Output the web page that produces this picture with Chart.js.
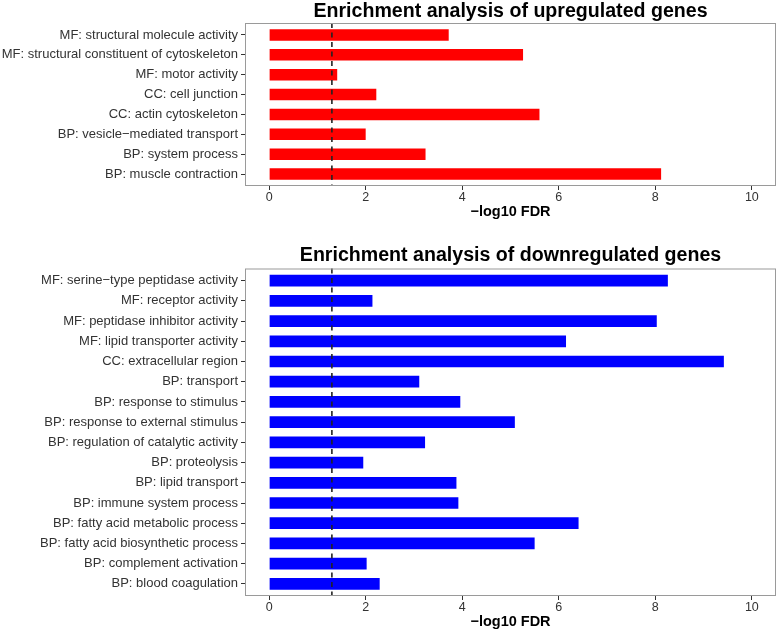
<!DOCTYPE html>
<html>
<head>
<meta charset="utf-8">
<script src="https://cdn.jsdelivr.net/npm/chart.js@4"></script>
<style>
  html, body { margin: 0; padding: 0; background: #fff; }
  canvas { position: absolute; left: 0; }
  #upChart { top: 0; }
  #downChart { top: 230px; }
</style>
</head>
<body>
<canvas id="upChart" width="778" height="230"></canvas>
<canvas id="downChart" width="778" height="403"></canvas>
<script>
// GO terms and -log10 FDR values
var upTerms = [
  'MF: structural molecule activity',
  'MF: structural constituent of cytoskeleton',
  'MF: motor activity',
  'CC: cell junction',
  'CC: actin cytoskeleton',
  'BP: vesicle\u2212mediated transport',
  'BP: system process',
  'BP: muscle contraction'
];
var upValues = [3.72, 5.26, 1.41, 2.22, 5.60, 2.00, 3.24, 8.12];

var downTerms = [
  'MF: serine\u2212type peptidase activity',
  'MF: receptor activity',
  'MF: peptidase inhibitor activity',
  'MF: lipid transporter activity',
  'CC: extracellular region',
  'BP: transport',
  'BP: response to stimulus',
  'BP: response to external stimulus',
  'BP: regulation of catalytic activity',
  'BP: proteolysis',
  'BP: lipid transport',
  'BP: immune system process',
  'BP: fatty acid metabolic process',
  'BP: fatty acid biosynthetic process',
  'BP: complement activation',
  'BP: blood coagulation'
];
var downValues = [8.26, 2.14, 8.03, 6.15, 9.42, 3.11, 3.96, 5.09, 3.23, 1.95, 3.88, 3.92, 6.41, 5.50, 2.02, 2.29];

var xTicks = [0, 2, 4, 6, 8, 10];
var fdrCutoff = 1.3; // -log10(0.05)

var police = '"Liberation Sans", Arial, Helvetica, sans-serif';

// panel frame, threshold line and title
var panelPlugin = {
  id: 'panel',
  afterDatasetsDraw: function (chart, args, opts) {
    var ctx = chart.ctx;
    var a = chart.chartArea;
    var x = chart.scales.x.getPixelForValue(fdrCutoff);
    ctx.save();
    ctx.strokeStyle = '#222';
    ctx.lineWidth = 1.6;
    ctx.setLineDash([5, 4.5]);
    ctx.beginPath();
    ctx.moveTo(x, a.top);
    ctx.lineTo(x, a.bottom);
    ctx.stroke();

    ctx.setLineDash([]);
    ctx.strokeStyle = '#9a9a9a';
    ctx.lineWidth = 1;
    ctx.strokeRect(a.left + 0.5, a.top + 0.5, a.right - a.left - 1, a.bottom - a.top - 1);

    ctx.fillStyle = '#000';
    ctx.font = 'bold 19.6px ' + police;
    ctx.textAlign = 'center';
    ctx.textBaseline = 'alphabetic';
    ctx.fillText(opts.text, (a.left + a.right) / 2, a.top - opts.gap);
    ctx.restore();
  }
};

function dessinerGraphique(id, terms, values, couleur, titre, mise) {
  var ctx = document.getElementById(id).getContext('2d');
  return new Chart(ctx, {
    type: 'bar',
    data: {
      datasets: [{
        data: values.map(function (v, i) { return { x: v, y: i }; }),
        backgroundColor: couleur,
        borderWidth: 0,
        categoryPercentage: 1,
        barPercentage: 0.58
      }]
    },
    options: {
      indexAxis: 'y',
      responsive: false,
      animation: false,
      layout: { padding: { top: mise.top, right: 2, left: 0, bottom: 0 } },
      plugins: {
        legend: { display: false },
        tooltip: { enabled: false },
        panel: { text: titre, gap: mise.gap }
      },
      scales: {
        x: {
          type: 'linear',
          min: -0.5,
          max: 10.5,
          afterBuildTicks: function (s) {
            s.ticks = xTicks.map(function (v) { return { value: v }; });
          },
          afterFit: function (s) { s.height = mise.axisHeight; },
          grid: { drawOnChartArea: false, offset: false, tickLength: 4, color: '#333' },
          border: { display: false },
          ticks: { color: '#333', padding: 0.5, maxRotation: 0, font: { family: police, size: 12.5 } },
          title: {
            display: true,
            text: '\u2212log10 FDR',
            color: '#000',
            font: { family: police, size: 14.5, weight: 'bold' },
            padding: { top: 0, bottom: mise.titlePad }
          }
        },
        y: {
          type: 'linear',
          reverse: true,
          offset: false,
          min: -0.6,
          max: terms.length - 0.4,
          afterBuildTicks: function (s) {
            s.ticks = terms.map(function (t, i) { return { value: i }; });
          },
          afterFit: function (s) { s.width = 245; },
          grid: { drawOnChartArea: false, offset: false, tickLength: 4, color: '#333' },
          border: { display: false },
          ticks: {
            autoSkip: false,
            color: '#333',
            padding: 3,
            font: { family: police, size: 13 },
            callback: function (v) { return terms[v]; }
          }
        }
      }
    },
    plugins: [panelPlugin]
  });
}

dessinerGraphique('upChart', upTerms, upValues, '#ff0000',
  'Enrichment analysis of upregulated genes',
  { top: 23, gap: 6.5, axisHeight: 44, titlePad: 9.3 });

dessinerGraphique('downChart', downTerms, downValues, '#0000ff',
  'Enrichment analysis of downregulated genes',
  { top: 38.5, gap: 8, axisHeight: 37, titlePad: 2.8 });
</script>
</body>
</html>
